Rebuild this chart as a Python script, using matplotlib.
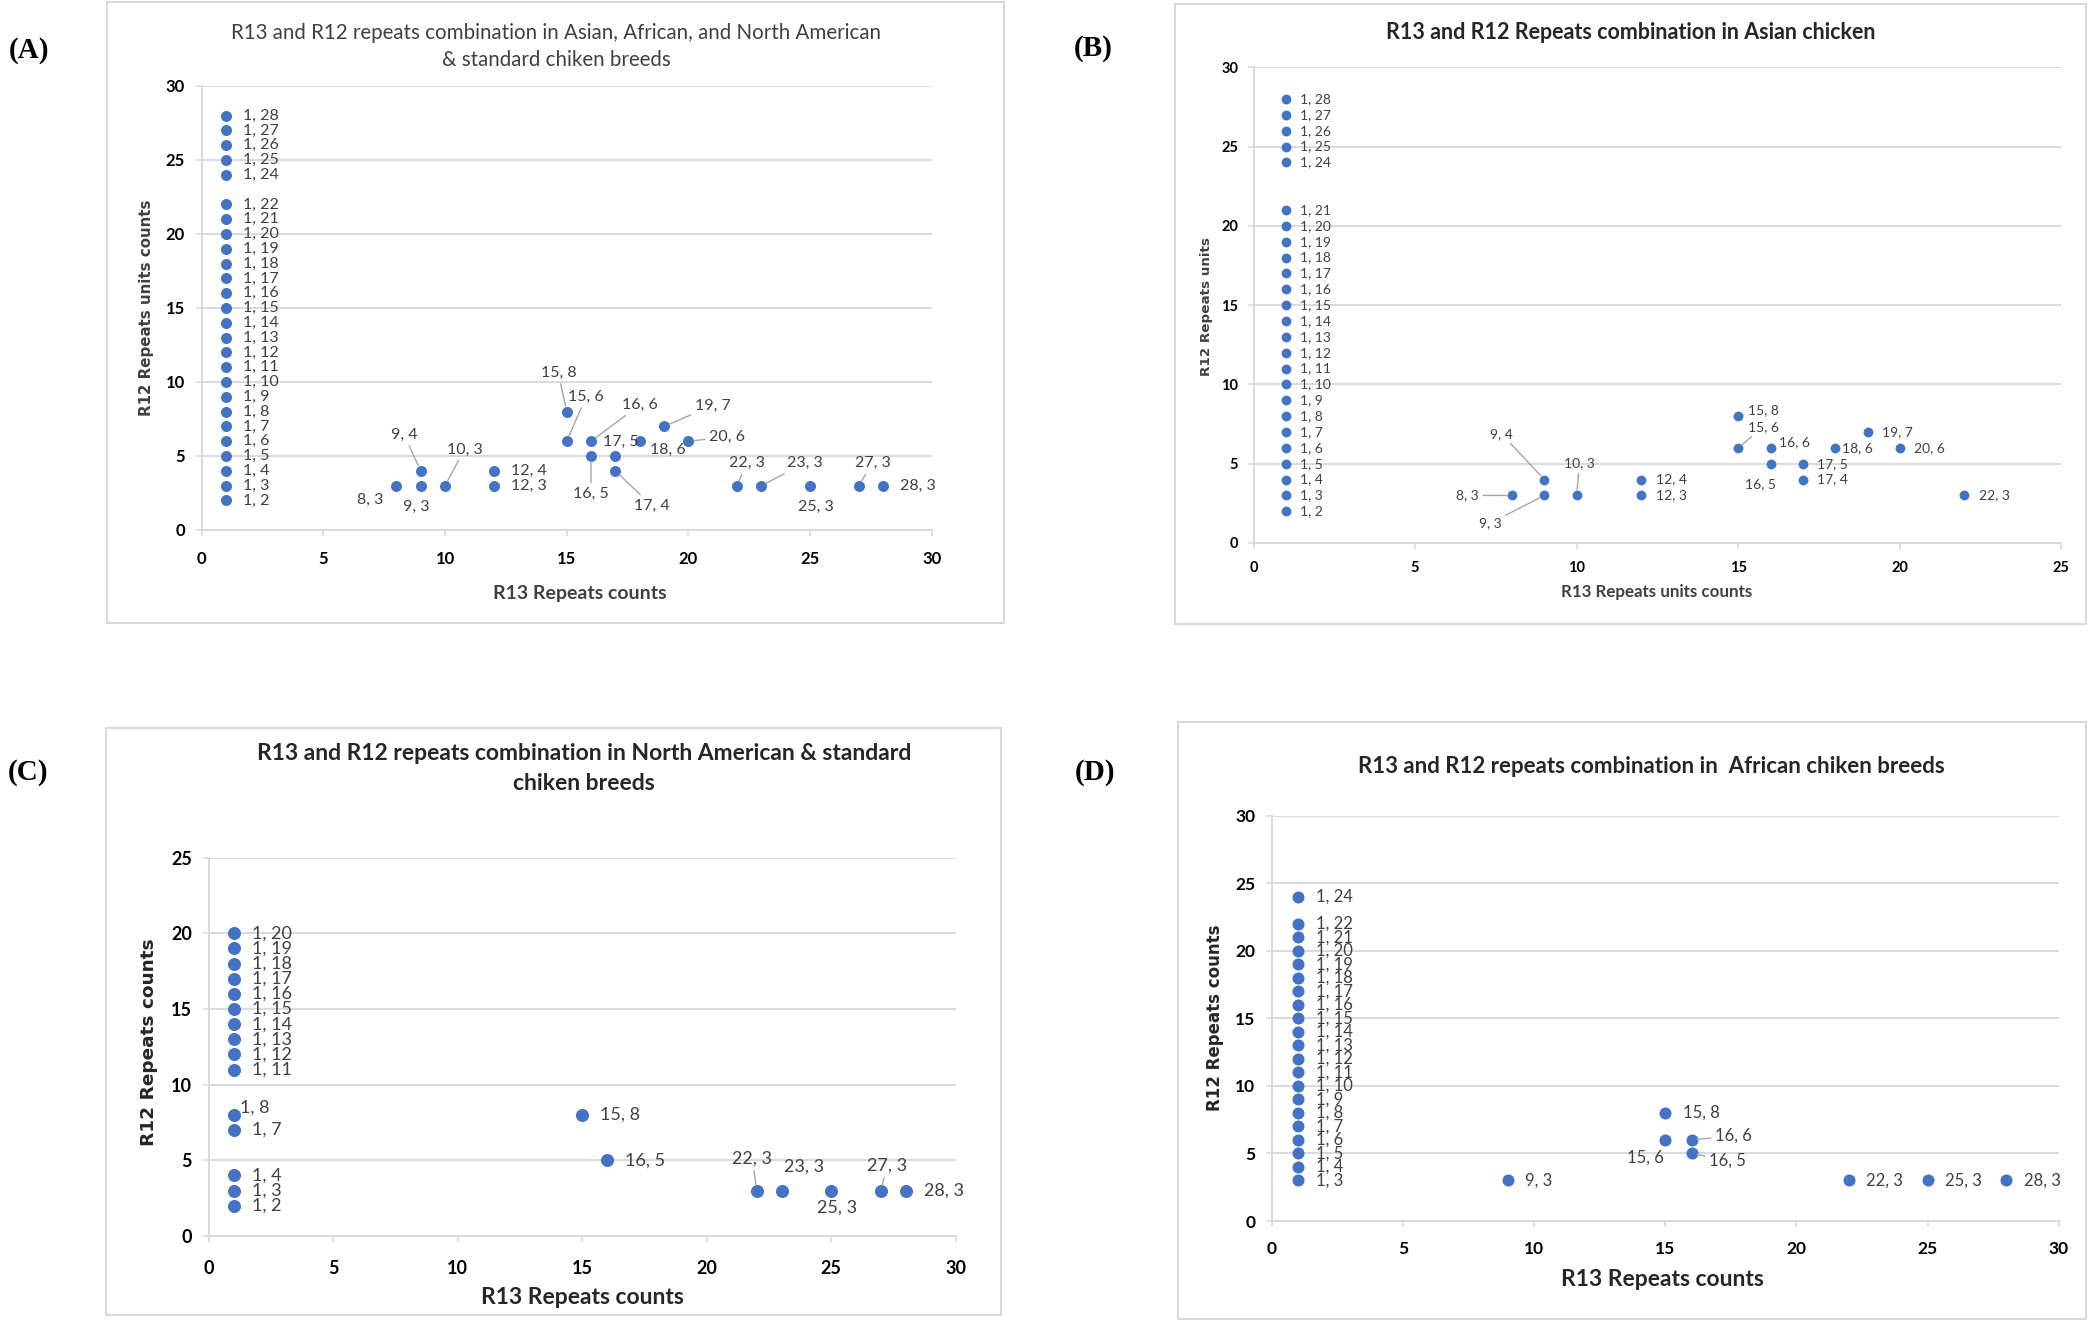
import matplotlib
matplotlib.use('Agg')
import matplotlib.pyplot as plt
from matplotlib.patches import Rectangle

# ---- data (R13 count, R12 count) per panel ----
a_r13 = [1]*26 + [8, 9, 9, 10, 12, 12, 15, 15, 16, 16, 17, 17, 18, 19, 20, 22, 23, 25, 27, 28]
a_r12 = [2, 3, 4, 5, 6, 7, 8, 9, 10, 11, 12, 13, 14, 15, 16, 17, 18, 19, 20, 21, 22,
         24, 25, 26, 27, 28] + [3, 3, 4, 3, 3, 4, 6, 8, 5, 6, 4, 5, 6, 7, 6, 3, 3, 3, 3, 3]

b_r13 = [1]*25 + [8, 9, 9, 10, 12, 12, 15, 15, 16, 16, 17, 17, 18, 19, 20, 22]
b_r12 = [2, 3, 4, 5, 6, 7, 8, 9, 10, 11, 12, 13, 14, 15, 16, 17, 18, 19, 20, 21,
         24, 25, 26, 27, 28] + [3, 3, 4, 3, 3, 4, 6, 8, 5, 6, 4, 5, 6, 7, 6, 3]

c_r13 = [1]*15 + [15, 16, 22, 23, 25, 27, 28]
c_r12 = [2, 3, 4, 7, 8, 11, 12, 13, 14, 15, 16, 17, 18, 19, 20] + [8, 5, 3, 3, 3, 3, 3]

d_r13 = [1]*21 + [9, 15, 15, 16, 16, 22, 25, 28]
d_r12 = [3, 4, 5, 6, 7, 8, 9, 10, 11, 12, 13, 14, 15, 16, 17, 18, 19, 20, 21, 22,
         24] + [3, 6, 8, 5, 6, 3, 3, 3]

# ---- label placement (points offset, leader line) ----
a_offsets = {
    (8, 3): (-19, -10, False), (9, 3): (-3, -15, False), (9, 4): (-12, 26, True),
    (10, 3): (14, 26, True), (15, 8): (-6, 28, True), (15, 6): (14, 32, True),
    (16, 6): (35, 26, True), (17, 5): (4, 10, False), (18, 6): (20, -6, False),
    (16, 5): (0, -27, True), (17, 4): (26, -25, True), (19, 7): (35, 15, True),
    (20, 6): (28, 3, True), (22, 3): (7, 16, True), (23, 3): (31, 16, True),
    (25, 3): (4, -15, False), (27, 3): (10, 16, True),
}
b_offsets = {
    (9, 4): (-31, 33, True), (8, 3): (-32, 0, True), (9, 3): (-39, -20, True),
    (10, 3): (2, 23, True), (15, 8): (18, 4, True), (15, 6): (18, 15, True),
    (16, 6): (17, 4, False), (16, 5): (-7, -15, False), (18, 6): (16, 0, False),
}
c_offsets = {
    (1, 8): (15, 5, False), (22, 3): (-3, 23, True), (23, 3): (16, 17, False),
    (25, 3): (4, -12, False), (27, 3): (4, 18, True),
}
d_offsets = {
    (16, 6): (30, 3, True), (15, 6): (-14, -13, False), (16, 5): (26, -5, True),
}

W, H = 2088, 1326
BLUE = '#4472C4'
plt.rcParams['font.family'] = ['Lato', 'DejaVu Sans']

fig = plt.figure(figsize=(W / 100, H / 100), dpi=100)


def fx(px):
    return px / W


def fy(py):
    return 1 - py / H


def box(x0, y0, x1, y1):
    fig.patches.append(Rectangle((fx(x0), fy(y1)), fx(x1 - x0), (y1 - y0) / H,
                                 transform=fig.transFigure, fill=False,
                                 edgecolor='#d9d9d9', lw=1.5))


def panel(rect, xs, ys, offsets, xmax, ymax, ms, lfs, dflt, tfs, xpad, ypad):
    x0, y0, x1, y1 = rect
    ax = fig.add_axes([fx(x0), fy(y1), fx(x1 - x0), (y1 - y0) / H])
    ax.set_xlim(0, xmax)
    ax.set_ylim(0, ymax)
    ax.set_xticks(range(0, xmax + 1, 5))
    ax.set_yticks(range(0, ymax + 1, 5))
    ax.grid(axis='y', color='#d9d9d9', lw=1.4)
    ax.set_axisbelow(True)
    for s in ['top', 'right']:
        ax.spines[s].set_visible(False)
    for s in ['left', 'bottom']:
        ax.spines[s].set_color('#d9d9d9')
        ax.spines[s].set_linewidth(1.4)
    ax.tick_params(axis='x', length=4, width=1.2, color='#d9d9d9', pad=xpad,
                   labelsize=tfs)
    ax.tick_params(axis='y', length=4, width=1.2, color='#d9d9d9', pad=ypad,
                   labelsize=tfs)
    for t in ax.get_xticklabels() + ax.get_yticklabels():
        t.set_fontweight('bold')
    ax.scatter(xs, ys, s=ms, color=BLUE, zorder=3, linewidths=0)
    for x, y in zip(xs, ys):
        txt = f'{x}, {y}'
        if (x, y) in offsets:
            dx, dy, line = offsets[(x, y)]
            ap = None
            if line:
                ap = dict(arrowstyle='-', color='#a6a6a6', lw=1,
                          shrinkA=1, shrinkB=4)
            ax.annotate(txt, (x, y), xytext=(dx, dy), textcoords='offset points',
                        ha='center', va='center', fontsize=lfs, color='#404040',
                        arrowprops=ap, zorder=4)
        else:
            ax.annotate(txt, (x, y), xytext=(dflt, 0), textcoords='offset points',
                        ha='left', va='center', fontsize=lfs, color='#404040',
                        zorder=4)
    return ax


# ---- panel A ----
box(106.7, 2, 1004, 623)
panel((201.7, 86, 931.7, 530), a_r13, a_r12, a_offsets, 30, 30,
      63, 11.5, 12.5, 12, 11, 8)
fig.text(fx(556), fy(32.6), 'R13 and R12 repeats combination in Asian, African, and North American',
         ha='center', va='center', fontsize=14.8, color='#404040')
fig.text(fx(556), fy(60.4), '& standard chiken breeds',
         ha='center', va='center', fontsize=14.8, color='#404040')
fig.text(fx(146), fy(308), 'R12 Repeats units counts', rotation=90, ha='center',
         va='center', fontsize=10.8, fontweight='bold', color='#404040',
         family='DejaVu Sans')
fig.text(fx(580), fy(594), 'R13 Repeats counts', ha='center', va='center',
         fontsize=14, fontweight='bold', color='#404040')

# ---- panel B ----
box(1174.5, 4, 2086, 623.7)
panel((1253.5, 67.3, 2061.4, 543), b_r13, b_r12, b_offsets, 25, 30,
      50, 10, 10.5, 10.5, 9, 7)
fig.text(fx(1630.5), fy(32.6), 'R13 and R12 Repeats combination in Asian chicken',
         ha='center', va='center', fontsize=15.5, fontweight='bold', color='#262626')
fig.text(fx(1206.6), fy(306), 'R12 Repeats units', rotation=90, ha='center',
         va='center', fontsize=9.7, fontweight='bold', color='#404040',
         family='DejaVu Sans')
fig.text(fx(1656.5), fy(592), 'R13 Repeats units counts', ha='center', va='center',
         fontsize=12.2, fontweight='bold', color='#404040')

# ---- panel C ----
box(105.8, 728, 1000.7, 1314.8)
panel((208.8, 857.7, 955.8, 1236), c_r13, c_r12, c_offsets, 30, 25,
      88, 13, 13, 13, 13, 8)
fig.text(fx(584), fy(754), 'R13 and R12 repeats combination in North American & standard',
         ha='center', va='center', fontsize=16.5, fontweight='bold', color='#262626')
fig.text(fx(584), fy(784), 'chiken breeds',
         ha='center', va='center', fontsize=16.5, fontweight='bold', color='#262626')
fig.text(fx(148.6), fy(1042), 'R12 Repeats counts', rotation=90, ha='center',
         va='center', fontsize=13.3, fontweight='bold', color='#262626',
         family='DejaVu Sans')
fig.text(fx(582), fy(1298), 'R13 Repeats counts', ha='center', va='center',
         fontsize=16.5, fontweight='bold', color='#262626')

# ---- panel D ----
box(1177.9, 722, 2086, 1318.8)
panel((1272, 815.8, 2058.7, 1221), d_r13, d_r12, d_offsets, 30, 30,
      75, 12, 12.5, 12.5, 10.5, 8)
fig.text(fx(1651.8), fy(766.7), 'R13 and R12 repeats combination in  African chiken breeds',
         ha='center', va='center', fontsize=16, fontweight='bold', color='#262626')
fig.text(fx(1214.7), fy(1018), 'R12 Repeats counts', rotation=90, ha='center',
         va='center', fontsize=12, fontweight='bold', color='#262626',
         family='DejaVu Sans')
fig.text(fx(1662), fy(1279.6), 'R13 Repeats counts', ha='center', va='center',
         fontsize=16.5, fontweight='bold', color='#262626')

# ---- panel letters ----
for lab, x, y in [('(A)', 29, 51), ('(B)', 1093, 49), ('(C)', 28, 772), ('(D)', 1095, 772)]:
    fig.text(fx(x), fy(y), lab, ha='center', va='center', fontsize=21,
             fontweight='bold', family=['Liberation Serif', 'DejaVu Serif'])

fig.savefig('out.png', dpi=100, facecolor='white')
